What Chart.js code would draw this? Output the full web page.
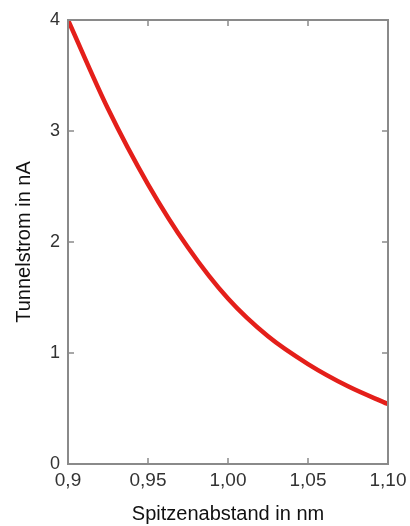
<!DOCTYPE html>
<html>
<head>
<meta charset="utf-8">
<script src="https://cdn.jsdelivr.net/npm/chart.js@4/dist/chart.umd.min.js"></script>
<style>
  html, body { margin: 0; padding: 0; background: #fff; }
  #wrap { width: 410px; height: 526px; }
</style>
</head>
<body>
<div id="wrap"><canvas id="chart" width="410" height="526"></canvas></div>
<script>
// Values
const distance = [0.900, 0.925, 0.950, 0.975, 1.000, 1.025, 1.050, 1.075, 1.100];
const current = [4.00, 3.20, 2.52, 1.95, 1.49, 1.15, 0.90, 0.70, 0.54];
const xTicks = [0.9, 0.95, 1.0, 1.05, 1.1];
const xTickLabels = ['0,9', '0,95', '1,00', '1,05', '1,10'];
const yTicks = [0, 1, 2, 3, 4];

// Box around the plot with small inward tick marks on all four sides
const frameTicks = {
    id: 'frameTicks',
    afterDraw(chart) {
        const ctx = chart.ctx;
        const a = chart.chartArea;
        const x = chart.scales.x;
        const y = chart.scales.y;
        const len = 6;
        ctx.save();
        ctx.strokeStyle = '#8a8a8a';
        ctx.lineWidth = 2;
        ctx.strokeRect(a.left, a.top, a.right - a.left, a.bottom - a.top);
        ctx.lineWidth = 1.5;
        ctx.beginPath();
        xTicks.forEach(v => {
            const px = x.getPixelForValue(v);
            ctx.moveTo(px, a.bottom); ctx.lineTo(px, a.bottom - len);
            ctx.moveTo(px, a.top); ctx.lineTo(px, a.top + len);
        });
        yTicks.forEach(v => {
            const py = y.getPixelForValue(v);
            ctx.moveTo(a.left, py); ctx.lineTo(a.left + len, py);
            ctx.moveTo(a.right, py); ctx.lineTo(a.right - len, py);
        });
        ctx.stroke();
        ctx.restore();
    }
};

new Chart(document.getElementById('chart'), {
    type: 'line',
    data: {
        datasets: [{
            data: distance.map((d, i) => ({ x: d, y: current[i] })),
            borderColor: '#e41f1a',
            borderWidth: 4.5,
            pointRadius: 0,
            cubicInterpolationMode: 'monotone',
            fill: false
        }]
    },
    options: {
        responsive: false,
        animation: false,
        layout: { padding: { top: 20, right: 22, bottom: 0, left: 0 } },
        plugins: {
            legend: { display: false },
            tooltip: { enabled: false }
        },
        scales: {
            x: {
                type: 'linear',
                min: 0.9,
                max: 1.1,
                afterBuildTicks: scale => { scale.ticks = xTicks.map(v => ({ value: v })); },
                afterFit: scale => {
                    scale.height = 62;
                    // let the last label run off the edge like in the original
                    scale.paddingLeft = 0;
                    scale.paddingRight = 0;
                },
                grid: { display: false, drawTicks: false },
                border: { display: false },
                ticks: {
                    padding: 5,
                    color: '#333',
                    font: { family: 'Liberation Sans', size: 19 },
                    maxRotation: 0,
                    callback: (v, i) => xTickLabels[i]
                },
                title: {
                    display: true,
                    text: 'Spitzenabstand in nm',
                    color: '#111',
                    font: { family: 'Liberation Sans', size: 20 },
                    padding: { top: 0, bottom: 0 }
                }
            },
            y: {
                min: 0,
                max: 4,
                afterBuildTicks: scale => { scale.ticks = yTicks.map(v => ({ value: v })); },
                afterFit: scale => { scale.width = 68; },
                grid: { display: false, drawTicks: false },
                border: { display: false },
                ticks: {
                    padding: 8,
                    color: '#333',
                    font: { family: 'Liberation Sans', size: 18 }
                },
                title: {
                    display: true,
                    text: 'Tunnelstrom in nA',
                    color: '#111',
                    font: { family: 'Liberation Sans', size: 20 },
                    padding: { top: 12, bottom: 4 }
                }
            }
        }
    },
    plugins: [frameTicks]
});
</script>
</body>
</html>
